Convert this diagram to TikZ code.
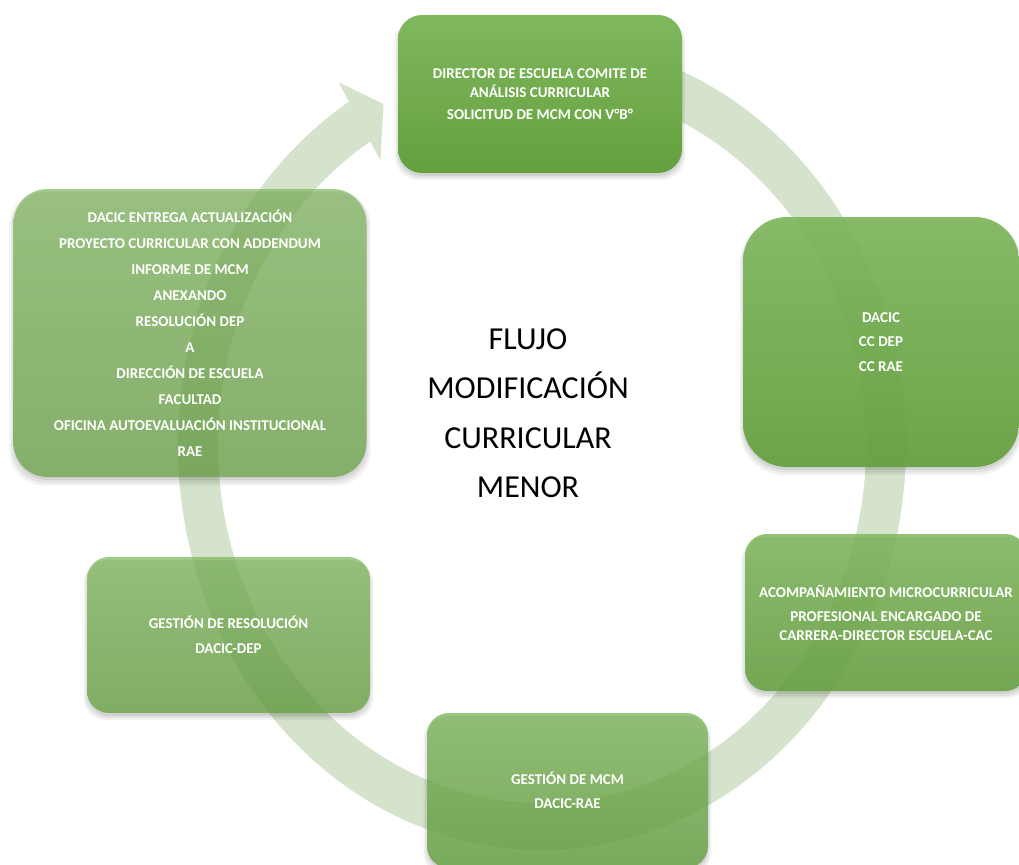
\documentclass[tikz,border=0pt]{standalone}
\usepackage{fontspec}
\setmainfont{Carlito}
\usetikzlibrary{shadows,calc}
\definecolor{ringfill}{RGB}{213,227,205}
\definecolor{gtop}{RGB}{128,184,94}
\definecolor{gbot}{RGB}{100,160,62}
\begin{document}
\begin{tikzpicture}[x=1pt,y=1pt,
  softshadow/.style={
    general shadow={fill=black, opacity=0.07, shadow yshift=-3pt, shadow scale=1.0},
    general shadow={fill=black, opacity=0.06, shadow yshift=-4pt, shadow scale=1.012},
    general shadow={fill=black, opacity=0.05, shadow yshift=-5pt, shadow scale=1.024}},
  stepbox/.style={shape=rectangle, inner sep=0pt, align=center, text=white,
    text opacity=1, top color=gtop, bottom color=gbot,
    font=\fontsize{15}{18.5}\selectfont\bfseries, softshadow},
  ringpart/.style={fill=ringfill}]
\fill[white] (0,0) rectangle (1019,-864);
\useasboundingbox (0,0) rectangle (1019,-864);
% circular arrow
\coordinate (C) at (542,-445);
\fill[ringpart] ($(C)+(122:364 and 405)$)
  arc[start angle=122, end angle=460, x radius=364, y radius=405]
  -- ($(C)+(460:324 and 358)$)
  arc[start angle=460, end angle=122, x radius=324, y radius=358] -- cycle;
\coordinate (h1) at (338.6,-82.2);
\coordinate (h2) at (383.5,-104);
\coordinate (h3) at (380.4,-160.4);
\fill[ringpart] (h1) -- (h2) -- (h3) -- cycle;
% boxes
\node[stepbox, rounded corners=24pt, minimum width=284pt, minimum height=158pt,
  fill opacity=1] (n1) at (540,-94)
  {DIRECTOR DE ESCUELA COMITE DE\\ANÁLISIS CURRICULAR\\[3.5pt]SOLICITUD DE MCM CON V°B°};
\node[stepbox, rounded corners=44pt, minimum width=276pt, minimum height=250pt,
  fill opacity=0.92] (n2) at (881,-342)
  {DACIC\\[6pt]CC DEP\\[6pt]CC RAE};
\node[stepbox, rounded corners=22pt, minimum width=282pt, minimum height=157pt,
  fill opacity=0.86] (n3) at (886,-612.5)
  {ACOMPAÑAMIENTO MICROCURRICULAR\\[6pt]PROFESIONAL ENCARGADO DE\\CARRERA-DIRECTOR ESCUELA-CAC};
\node[stepbox, rounded corners=22pt, minimum width=281pt, minimum height=155pt,
  fill opacity=0.8] (n4) at (567.5,-790.5)
  {GESTIÓN DE MCM\\[5.5pt]DACIC-RAE};
\node[stepbox, rounded corners=22pt, minimum width=283pt, minimum height=156pt,
  fill opacity=0.74] (n5) at (228.5,-635)
  {GESTIÓN DE RESOLUCIÓN\\[6.5pt]DACIC-DEP};
\node[stepbox, rounded corners=34pt, minimum width=353pt, minimum height=288pt,
  fill opacity=0.7, font=\fontsize{15}{26}\selectfont\bfseries] (n6) at (190,-333)
  {DACIC ENTREGA ACTUALIZACIÓN\\PROYECTO CURRICULAR CON ADDENDUM\\INFORME DE MCM\\ANEXANDO\\RESOLUCIÓN DEP\\A\\DIRECCIÓN DE ESCUELA\\FACULTAD\\OFICINA AUTOEVALUACIÓN INSTITUCIONAL\\RAE};
% title
\node[font=\fontsize{32}{49.5}\selectfont, align=center, text=black] (title) at (528,-413)
  {FLUJO\\MODIFICACIÓN\\CURRICULAR\\MENOR};
\end{tikzpicture}
\end{document}
